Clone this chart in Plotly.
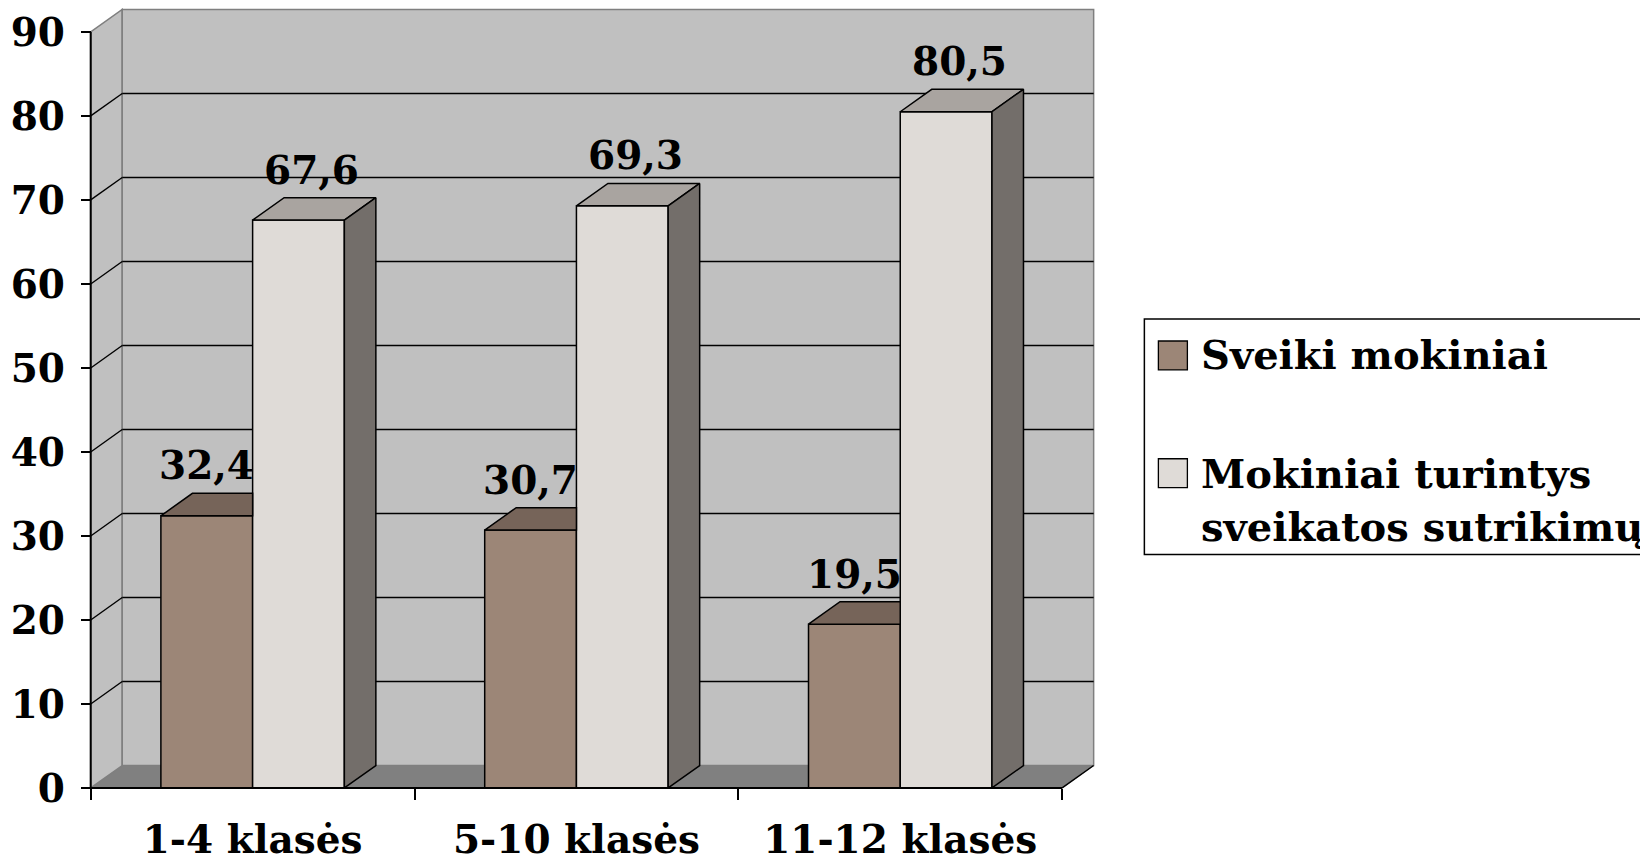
import plotly.graph_objects as go

categories = ["1-4 klasės", "5-10 klasės", "11-12 klasės"]
series_names = ["Sveiki mokiniai", "Mokiniai turintys sveikatos sutrikimų"]
healthy = [32.4, 30.7, 19.5]
with_disorders = [67.6, 69.3, 80.5]
y_max = 90
y_step = 10

# colours of the 3D faces (front, top, side)
BROWN = "#9C8677"
BROWN_TOP = "#766459"
LIGHT = "#DFDBD7"
LIGHT_TOP = "#A9A4A0"
LIGHT_SIDE = "#736E6A"
WALL = "#C0C0C0"
FLOOR = "#808080"
FONT = "DejaVu Serif"

# the page body has an 8px margin, so the figure is drawn 8px smaller and shifted
OFF = 8
WIDTH, HEIGHT = 1648 - OFF, 862 - OFF

# pixel geometry of the fake 3D box (page pixels)
PX = 323.7          # px per category
PY = 8.42           # px per y unit
X0_PX, Y0_PX = 90.7, 790.0
DX = 31.5 / PX      # depth offset, data units
DY = 22.5 / PY
w = 91.7 / PX       # bar width

xr = [-0.53, 2.62]
yr = [-0.6, 92.85]
L = X0_PX - OFF + (xr[0] + 0.5) * PX
W = (xr[1] - xr[0]) * PX
T = max(Y0_PX - OFF - yr[1] * PY, 0)
HP = (yr[1] - yr[0]) * PY


def paper_x(px):
    return (px - OFF - L) / W


def paper_y(py):
    return (T + HP - (py - OFF)) / HP


n = len(categories)
xs = list(range(n))
x_left, x_right = -0.5, n - 0.5

shapes = []
# floor, walls
shapes.append(dict(type="path", layer="below", fillcolor=FLOOR, line=dict(color=FLOOR, width=1),
                   path=f"M{x_left},0 L{x_right},0 L{x_right+DX},{DY} L{x_left+DX},{DY} Z"))
shapes.append(dict(type="path", layer="below", fillcolor=WALL, line=dict(color="#7F7F7F", width=1.5),
                   path=f"M{x_left},0 L{x_left},{y_max} L{x_left+DX},{y_max+DY} L{x_left+DX},{DY} Z"))
shapes.append(dict(type="rect", layer="below", fillcolor=WALL, line=dict(color="#7F7F7F", width=1.5),
                   x0=x_left + DX, x1=x_right + DX, y0=DY, y1=y_max + DY))
# gridlines on the back and side wall
for v in range(y_step, y_max, y_step):
    shapes.append(dict(type="line", layer="below", line=dict(color="black", width=1.4),
                       x0=x_left + DX, x1=x_right + DX, y0=v + DY, y1=v + DY))
    shapes.append(dict(type="line", layer="below", line=dict(color="black", width=1.4),
                       x0=x_left, x1=x_left + DX, y0=v, y1=v + DY))
# axis lines
shapes.append(dict(type="line", layer="above", line=dict(color="black", width=2),
                   x0=x_left, x1=x_right, y0=0, y1=0))
shapes.append(dict(type="line", layer="above", line=dict(color="black", width=2),
                   x0=x_left, x1=x_left, y0=0, y1=y_max))
shapes.append(dict(type="line", layer="below", line=dict(color="black", width=1.5),
                   x0=x_right, x1=x_right + DX, y0=0, y1=DY))

fig = go.Figure()
fig.add_trace(go.Bar(x=xs, y=healthy, name=series_names[0], width=w, offset=-w,
                     marker=dict(color=BROWN, line=dict(color="black", width=1.5)), showlegend=False))
fig.add_trace(go.Bar(x=xs, y=with_disorders, name=series_names[1], width=w, offset=0,
                     marker=dict(color=LIGHT, line=dict(color="black", width=1.5)), showlegend=False))

# 3D top / side faces, built from the data
bt_x, bt_y, lt_x, lt_y, ls_x, ls_y = [], [], [], [], [], []
for i, a, b in zip(xs, healthy, with_disorders):
    bt_x += [i - w, i, i, i - w + DX, i - w, None]
    bt_y += [a, a, a + DY, a + DY, a, None]
    lt_x += [i, i + w, i + w + DX, i + DX, i, None]
    lt_y += [b, b, b + DY, b + DY, b, None]
    ls_x += [i + w, i + w + DX, i + w + DX, i + w, i + w, None]
    ls_y += [0, DY, b + DY, b, 0, None]
for fx, fy, col in [(bt_x, bt_y, BROWN_TOP), (lt_x, lt_y, LIGHT_TOP), (ls_x, ls_y, LIGHT_SIDE)]:
    fig.add_trace(go.Scatter(x=fx, y=fy, mode="lines", fill="toself", fillcolor=col,
                             line=dict(color="black", width=1.5), hoverinfo="skip", showlegend=False))

annotations = []
label_font = dict(family=FONT, size=39, color="black", weight="bold")
for i, a, b in zip(xs, healthy, with_disorders):
    annotations.append(dict(x=i - w / 2, y=a + DY, text=f"{a:.1f}".replace(".", ","), showarrow=False,
                            xanchor="center", yanchor="bottom", yshift=3, font=label_font))
    annotations.append(dict(x=i + w / 2 + 0.04, y=b + DY, text=f"{b:.1f}".replace(".", ","), showarrow=False,
                            xanchor="center", yanchor="bottom", yshift=3, font=label_font))

# legend box drawn by hand (extends past the right edge like the original)
legend_font = dict(family=FONT, size=40, color="black", weight="bold")
shapes.append(dict(type="rect", xref="paper", yref="paper", x0=paper_x(1144), x1=paper_x(1665),
                   y0=paper_y(556), y1=paper_y(320), line=dict(color="black", width=1.5), fillcolor="white"))
for col, top in [(BROWN, 342), (LIGHT, 460)]:
    shapes.append(dict(type="rect", xref="paper", yref="paper", x0=paper_x(1158), x1=paper_x(1187),
                       y0=paper_y(top + 29), y1=paper_y(top), line=dict(color="black", width=1.3), fillcolor=col))
legend_lines = [(series_names[0], 356), ("Mokiniai turintys", 475), ("sveikatos sutrikimų", 528)]
for txt, cy in legend_lines:
    annotations.append(dict(xref="paper", yref="paper", x=paper_x(1199), y=paper_y(cy), text=txt,
                            showarrow=False, xanchor="left", yanchor="middle", font=legend_font))

fig.update_layout(
    width=WIDTH, height=HEIGHT, autosize=False,
    margin=dict(l=L, r=WIDTH - L - W, t=T, b=HEIGHT - T - HP, pad=0),
    paper_bgcolor="white", plot_bgcolor="white",
    barmode="overlay", shapes=shapes, annotations=annotations,
    showlegend=False,
)
fig.update_xaxes(
    range=xr, anchor="free", position=paper_y(Y0_PX),
    tickmode="array", tickvals=xs, ticktext=categories, ticks="", ticklabelstandoff=25,
    tickfont=dict(family=FONT, size=39, color="black", weight="bold"),
    minor=dict(tickmode="array", tickvals=[x_left + k for k in range(n + 1)], ticks="outside",
               ticklen=11, tickwidth=1.5, tickcolor="black"),
    showgrid=False, zeroline=False, showline=False,
)
fig.update_yaxes(
    range=yr, anchor="free", position=paper_x(X0_PX),
    tickmode="linear", tick0=0, dtick=y_step, ticks="outside", ticklen=10, tickwidth=1.5, tickcolor="black",
    ticklabelstandoff=8,
    tickfont=dict(family=FONT, size=39, color="black", weight="bold"),
    showgrid=False, zeroline=False, showline=False,
)

fig.write_html("out.html")
